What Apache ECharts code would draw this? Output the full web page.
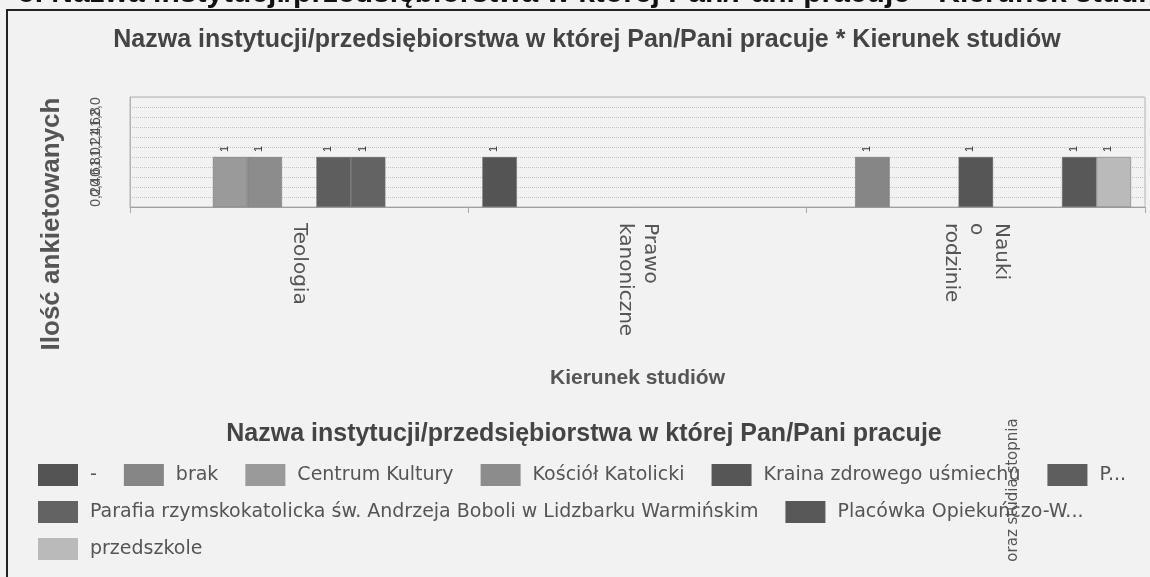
<!DOCTYPE html>
<html>
<head>
<meta charset="utf-8">
<title>Nazwa instytucji * Kierunek studiów</title>
<script src="https://cdn.jsdelivr.net/npm/echarts@6/dist/echarts.min.js"></script>
<style>
  html, body { margin: 0; padding: 0; background: #f2f2f2; }
  .chart-box { width: 1150px; height: 577px; }
</style>
</head>
<body>
<div class="chart-box"></div>
<script>
// dane
let categories = ['Teologia', 'Prawo kanoniczne', 'Nauki o rodzinie'];
let seriesNames = [
  '-',
  'brak',
  'Centrum Kultury',
  'Kościół Katolicki',
  'Kraina zdrowego uśmiechu',
  'P...',
  'Parafia rzymskokatolicka św. Andrzeja Boboli w Lidzbarku Warmińskim',
  'Placówka Opiekuńczo-W...',
  'przedszkole'
];
// wartości: [Teologia, Prawo kanoniczne, Nauki o rodzinie]
let valDash = [null, 1, null];
let valBrak = [null, null, 1];
let valCentrum = [1, null, null];
let valKosciol = [1, null, null];
let valKraina = [null, null, 1];
let valP = [1, null, null];
let valParafia = [1, null, null];
let valPlacowka = [null, null, 1];
let valPrzedszkole = [null, null, 1];
let yTicks = [0, 0.2, 0.4, 0.6, 0.8, 1.0, 1.2, 1.4, 1.6, 1.8, 2.0, 2.2];

(function () {

  // 1. instancja
  let myChart = echarts.init(document.querySelector(".chart-box"));

  let color = ['#545454', '#868686', '#9a9a9a', '#8c8c8c', '#565656', '#5e5e5e', '#636363', '#585858', '#bababa'];
  let values = [valDash, valBrak, valCentrum, valKosciol, valKraina, valP, valParafia, valPlacowka, valPrzedszkole];

  let series = seriesNames.map(function (name, i) {
    return {
      name: name,
      type: 'bar',
      barGap: '0%',
      barCategoryGap: '8.3%',
      data: values[i],
      itemStyle: {
        borderColor: '#6a6a6a',
        borderWidth: 0.5
      },
      label: {
        show: true,
        position: 'top',
        distance: 8,
        rotate: 90,
        fontSize: 11,
        color: '#333',
        fontFamily: 'Liberation Sans'
      }
    };
  });

  // 2. konfiguracja
  let option = {
    backgroundColor: '#f2f2f2',
    color: color,
    animation: false,
    grid: {
      left: 130,
      right: 5,
      top: 97,
      bottom: 370,
      show: true,
      borderColor: '#b4b4b4',
      borderWidth: 1
    },
    legend: {
      data: seriesNames,
      left: 33,
      top: 459,
      width: 1115,
      icon: 'rect',
      itemWidth: 40,
      itemHeight: 22,
      itemGap: 15,
      itemStyle: {
        borderWidth: 0
      },
      textStyle: {
        fontFamily: 'DejaVu Sans',
        fontSize: 19,
        lineHeight: 22,
        color: '#555',
        padding: [0, 12, 0, 7]
      }
    },
    xAxis: {
      type: 'category',
      data: categories,
      name: 'Kierunek studiów',
      nameLocation: 'middle',
      nameGap: 161,
      nameTextStyle: {
        fontFamily: 'Liberation Sans',
        fontWeight: 'bold',
        fontSize: 21,
        color: '#555'
      },
      axisLine: { lineStyle: { color: '#a0a0a0' } },
      axisTick: { show: true, length: 6, lineStyle: { color: '#aaa' } },
      axisLabel: {
        interval: 0,
        rotate: -90,
        margin: 16,
        fontFamily: 'DejaVu Sans',
        fontSize: 20,
        lineHeight: 25,
        color: '#555',
        formatter: function (v) {
          return v.split(' ').join('\n');
        }
      }
    },
    yAxis: {
      type: 'value',
      min: yTicks[0],
      max: yTicks[yTicks.length - 1],
      interval: 0.2,
      axisLine: { show: true, lineStyle: { color: '#b4b4b4' } },
      axisTick: { show: false },
      splitLine: { lineStyle: { color: '#c4c4c4', type: 'dotted' } },
      axisLabel: {
        rotate: 90,
        margin: 27,
        fontFamily: 'Liberation Sans',
        fontSize: 14,
        color: '#555',
        formatter: function (v) {
          return v.toFixed(1).replace('.', ',');
        }
      }
    },
    graphic: [
      // ramka zeskanowanej strony
      {
        type: 'rect',
        shape: { x: 7, y: 10, width: 1170, height: 620 },
        style: { fill: 'none', stroke: '#222', lineWidth: 2 }
      },
      // ucięty nagłówek nad ramką
      {
        type: 'text',
        x: 18,
        y: 9,
        style: {
          text: '5. Nazwa instytucji/przedsiębiorstwa w której Pan/Pani pracuje * Kierunek studiów',
          fontFamily: 'Liberation Sans',
          fontWeight: 'bold',
          fontSize: 30,
          fill: '#111',
          align: 'left',
          verticalAlign: 'bottom'
        }
      },
      {
        type: 'text',
        x: 587,
        y: 40,
        style: {
          text: 'Nazwa instytucji/przedsiębiorstwa w której Pan/Pani pracuje * Kierunek studiów',
          fontFamily: 'Liberation Sans',
          fontWeight: 'bold',
          fontSize: 25,
          fill: '#444',
          align: 'center',
          verticalAlign: 'middle'
        }
      },
      {
        type: 'text',
        x: 52,
        y: 224,
        rotation: Math.PI / 2,
        style: {
          text: 'Ilość ankietowanych',
          fontFamily: 'Liberation Sans',
          fontWeight: 'bold',
          fontSize: 26,
          fill: '#555',
          align: 'center',
          verticalAlign: 'middle'
        }
      },
      {
        type: 'text',
        x: 584,
        y: 434,
        style: {
          text: 'Nazwa instytucji/przedsiębiorstwa w której Pan/Pani pracuje',
          fontFamily: 'Liberation Sans',
          fontWeight: 'bold',
          fontSize: 25,
          fill: '#444',
          align: 'center',
          verticalAlign: 'middle'
        }
      },
      // resztka etykiety, która wyszła poza oś
      {
        type: 'text',
        x: 1013,
        y: 490,
        rotation: Math.PI / 2,
        style: {
          text: 'oraz studia stopnia',
          fontFamily: 'DejaVu Sans',
          fontSize: 15,
          fill: '#555',
          align: 'center',
          verticalAlign: 'middle'
        }
      }
    ],
    series: series
  };

  // 3. ustaw opcje
  myChart.setOption(option);
  // 4. dopasowanie do okna
  window.addEventListener("resize", function () {
    myChart.resize();
  });

})();
</script>
</body>
</html>
